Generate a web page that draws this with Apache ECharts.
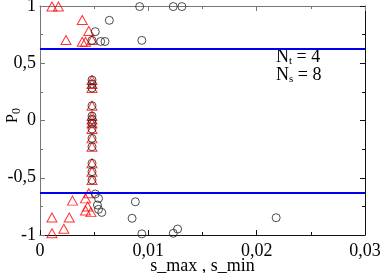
<!DOCTYPE html>
<html><head><meta charset="utf-8">
<script src="https://cdn.jsdelivr.net/npm/echarts@6/dist/echarts.min.js"></script>
<style>html,body{margin:0;padding:0;background:#fff}#c{width:382px;height:273px}</style>
</head><body><div id="c"></div>
<script>
// s_max (black circles)
const maxX = [0.0064,0.0051,0.0048,0.0056,0.0060,0.0094,0.0092,0.0123,0.0131,
  0.0048,0.0048,0.0048,0.0048,0.0048,0.0048,0.0048,0.0048,0.0048,0.0048,0.0048,0.0048,0.0048,
  0.0051,0.0054,0.0053,0.0054,0.0057,0.0088,0.0085,0.0094,0.0123,0.0127,0.0218];
const maxY = [0.875,0.776,0.70,0.69,0.69,0.70,0.995,0.995,0.995,
  0.354,0.319,0.284,0.129,0.039,0.009,-0.024,-0.074,-0.156,-0.229,-0.374,-0.447,-0.52,
  -0.642,-0.681,-0.738,-0.776,-0.803,-0.71,-0.854,-0.99,-0.985,-0.948,-0.849];
// s_min (red triangles)
const minX = [0.0011,0.0017,0.0039,0.0045,0.0024,0.0039,0.0042,0.0048,
  0.0048,0.0048,0.0048,0.0048,0.0048,0.0048,0.0048,0.0048,0.0048,0.0048,0.0048,0.0048,0.0048,
  0.0030,0.0042,0.0045,0.0044,0.0042,0.0047,0.0011,0.0027,0.0022,0.0011];
const minY = [0.995,0.995,0.878,0.782,0.703,0.688,0.688,0.703,
  0.354,0.319,0.284,0.129,0.039,0.009,-0.024,-0.074,-0.156,-0.229,-0.374,-0.447,-0.52,
  -0.70,-0.68,-0.636,-0.751,-0.786,-0.80,-0.847,-0.847,-0.945,-0.985];
const hLines = [0.63, -0.63];
const xTicks = [0, 0.01, 0.02, 0.03];
const yTicks = [-1, -0.5, 0, 0.5, 1];
const notes = [['t', '4'], ['s', '8']];

const fmt = v => String(+v.toFixed(3)).replace('.', ',');
const FONT = 'Liberation Serif';
const chart = echarts.init(document.getElementById('c'), null, {renderer: 'canvas'});
const zip = (a, b) => a.map((v, i) => [v, b[i]]);

function axisCommon(color, showLabel, margin) {
  return {
    axisLine: {show: true, onZero: false, lineStyle: {color: color, width: 1}},
    axisTick: {show: true, inside: true, length: 5, lineStyle: {color: color}},
    minorTick: {show: true, splitNumber: 2, length: 3, lineStyle: {color: color}},
    splitLine: {show: false},
    axisLabel: {show: showLabel, fontFamily: FONT, fontSize: 18, color: '#000', margin: margin, formatter: fmt}
  };
}

chart.setOption({
  animation: false,
  textStyle: {fontFamily: FONT},
  grid: {left: 40, right: 17, top: 6, bottom: 38, containLabel: false, outerBoundsMode: 'none'},
  xAxis: [
    Object.assign({type: 'value', min: xTicks[0], max: xTicks[xTicks.length-1], interval: 0.01, position: 'bottom',
      name: 's_max , s_min', nameLocation: 'middle', nameGap: 22, nameMoveOverlap: false,
      nameTextStyle: {fontFamily: FONT, fontSize: 18, color: '#000'}}, axisCommon('#111', true, 7)),
    Object.assign({type: 'value', min: 0, max: 0.03, interval: 0.01, position: 'top'}, axisCommon('#777', false, 5))
  ],
  yAxis: [
    Object.assign({type: 'value', min: yTicks[0], max: yTicks[yTicks.length-1], interval: 0.5, position: 'left',
      name: '{p|P}{s|0}', nameLocation: 'middle', nameGap: 17, nameRotate: 90, nameMoveOverlap: false,
      nameTextStyle: {fontFamily: FONT, padding: [0, 0, 0, 10], rich: {p: {fontFamily: FONT, fontSize: 16, color: '#000'},
        s: {fontFamily: FONT, fontSize: 12, color: '#000', verticalAlign: 'bottom', padding: [8,0,0,0]}}}},
      axisCommon('#777', true, 4)),
    Object.assign({type: 'value', min: -1, max: 1, interval: 0.5, position: 'right'}, axisCommon('#111', false, 4))
  ],
  graphic: notes.map((n, i) => ({
    type: 'text', left: 276, top: 48 + i * 18,
    style: {text: '{n|N}{s|' + n[0] + '}{n| = ' + n[1] + '}', fontFamily: FONT, fontSize: 18,
      rich: {n: {fontFamily: FONT, fontSize: 18, fill: '#000'},
        s: {fontFamily: FONT, fontSize: 11, fill: '#000', padding: [9,0,0,0]}}}
  })),
  series: [
    {type: 'scatter', xAxisIndex: 0, yAxisIndex: 0, data: zip(minX, minY), symbol: 'triangle', symbolSize: [10, 9],
      clip: false, itemStyle: {color: 'rgba(0,0,0,0)', borderColor: '#ff0000', borderWidth: 1}, z: 3},
    {type: 'scatter', xAxisIndex: 0, yAxisIndex: 0, data: zip(maxX, maxY), symbol: 'circle', symbolSize: 8,
      clip: false, itemStyle: {color: 'rgba(0,0,0,0)', borderColor: '#222', borderWidth: 1}, z: 4,
      markLine: {silent: true, symbol: ['none', 'none'], label: {show: false},
        lineStyle: {color: '#0000ee', width: 2, type: 'solid'},
        data: hLines.map(v => ({yAxis: v}))}}
  ]
});
</script></body></html>
